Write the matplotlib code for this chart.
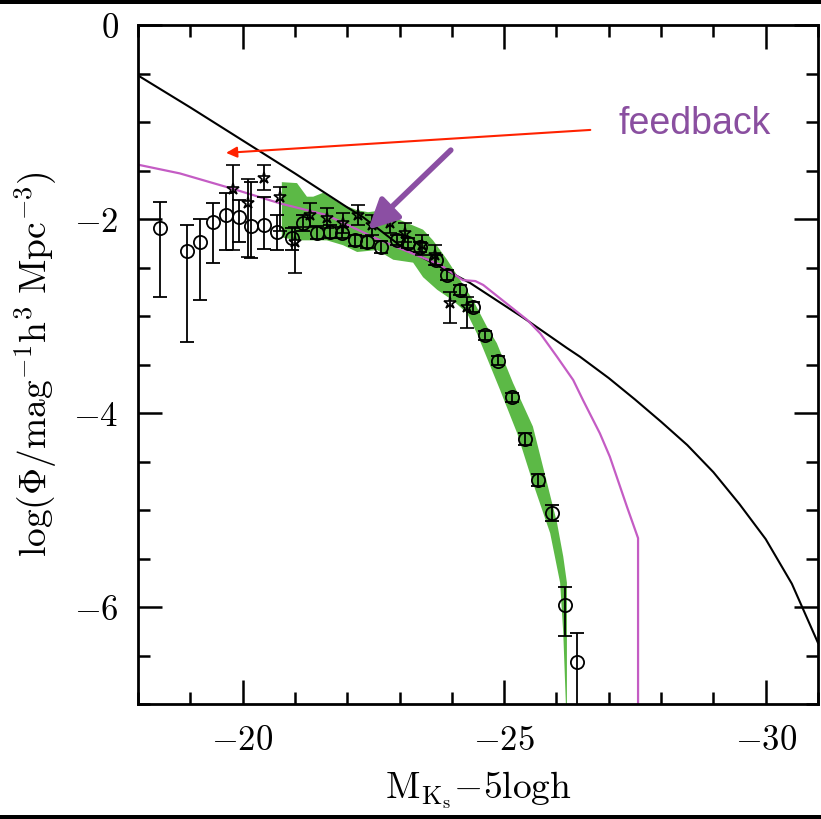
import numpy as np
import matplotlib.pyplot as plt
from matplotlib.patches import Rectangle
from matplotlib.ticker import MultipleLocator

plt.rcParams['mathtext.fontset'] = 'cm'

# model without feedback (black)
nofb_x = [-18.0, -19.0, -20.0, -21.0, -22.0, -22.3, -23.0, -24.35, -25.4, -26.2, -26.45, -27.0, -27.5, -28.0, -28.5, -29.0, -29.5, -30.0, -30.5, -31.0]
nofb_y = [-0.52, -0.85, -1.19, -1.53, -1.88, -1.98, -2.27, -2.66, -3.03, -3.33, -3.42, -3.64, -3.86, -4.09, -4.33, -4.61, -4.94, -5.30, -5.76, -6.37]

# model with feedback (magenta)
fb_x = [-18.0, -18.8, -19.82, -20.72, -21.61, -22.63, -23.77, -24.21, -24.45, -24.60, -25.44, -25.69, -26.01, -26.32, -26.51, -26.83, -27.02, -27.35, -27.56, -27.56]
fb_y = [-1.44, -1.53, -1.69, -1.84, -1.96, -2.22, -2.47, -2.63, -2.64, -2.68, -3.04, -3.18, -3.42, -3.66, -3.87, -4.21, -4.45, -4.97, -5.29, -7.0]

# green band, upper and lower edge
band_up_x = [-20.75, -21.04, -21.23, -21.35, -21.54, -21.86, -22.19, -22.40, -22.68, -23.01, -23.45, -23.64, -23.91, -24.16, -24.41, -24.67, -24.86, -25.17, -25.55, -25.82, -26.01, -26.13, -26.20, -26.20, -26.20]
band_up_y = [-1.62, -1.63, -1.77, -1.77, -1.73, -1.84, -1.91, -1.93, -1.91, -2.01, -2.11, -2.22, -2.42, -2.63, -2.84, -3.11, -3.28, -3.69, -4.14, -4.72, -5.13, -5.48, -5.75, -6.27, -7.0]
band_lo_x = [-20.75, -21.04, -21.29, -21.61, -21.92, -22.19, -22.57, -22.88, -23.26, -23.45, -23.72, -24.02, -24.29, -24.48, -24.67, -24.92, -25.25, -25.55, -25.88, -26.07, -26.13, -26.18]
band_lo_y = [-2.19, -2.22, -2.22, -2.22, -2.27, -2.34, -2.32, -2.42, -2.45, -2.60, -2.73, -2.84, -2.97, -3.18, -3.43, -3.76, -4.21, -4.72, -5.24, -5.75, -6.27, -7.0]

# open circles
circ_x = [-18.42, -18.94, -19.19, -19.43, -19.68, -19.93, -20.16, -20.41, -20.66, -20.94, -21.15, -21.42, -21.67, -21.90, -22.15, -22.38,
          -22.65, -22.95, -23.16, -23.39, -23.70, -23.91, -24.16, -24.41, -24.63, -24.88, -25.15, -25.40, -25.65, -25.92, -26.16, -26.39]
circ_y = [-2.09, -2.33, -2.24, -2.03, -1.96, -1.98, -2.07, -2.06, -2.13, -2.20, -2.04, -2.14, -2.13, -2.14, -2.22, -2.24,
          -2.29, -2.22, -2.25, -2.29, -2.42, -2.58, -2.73, -2.91, -3.20, -3.46, -3.84, -4.27, -4.69, -5.03, -5.98, -6.57]
circ_lo = [0.71, 0.94, 0.60, 0.42, 0.36, 0.26, 0.33, 0.25, 0.19, 0.12, 0.08, 0.07, 0.07, 0.06, 0.06, 0.06,
           0.06, 0.05, 0.05, 0.05, 0.05, 0.05, 0.05, 0.05, 0.05, 0.05, 0.05, 0.06, 0.06, 0.08, 0.32, 0.80]
circ_hi = [0.27, 0.27, 0.24, 0.19, 0.23, 0.18, 0.45, 0.29, 0.17, 0.11, 0.08, 0.07, 0.07, 0.06, 0.06, 0.06,
           0.06, 0.05, 0.05, 0.05, 0.05, 0.05, 0.05, 0.05, 0.05, 0.05, 0.05, 0.06, 0.06, 0.08, 0.19, 0.30]

# stars
star_x = [-19.82, -20.10, -20.41, -20.72, -21.00, -21.29, -21.61, -21.92, -22.21, -22.47, -22.82, -23.11, -23.43, -23.68, -23.97, -24.29]
star_y = [-1.69, -1.84, -1.58, -1.77, -2.24, -1.96, -1.99, -2.04, -1.96, -2.06, -2.04, -2.14, -2.27, -2.37, -2.87, -2.91]
star_lo = [0.63, 0.55, 0.12, 0.35, 0.32, 0.12, 0.10, 0.10, 0.10, 0.10, 0.10, 0.10, 0.10, 0.10, 0.20, 0.21]
star_hi = [0.25, 0.25, 0.14, 0.10, 0.16, 0.12, 0.10, 0.10, 0.10, 0.10, 0.10, 0.10, 0.10, 0.10, 0.12, 0.11]

xticks = [-20, -25, -30]
xtick_labels = [r'$-20$', r'$-25$', r'$-30$']
yticks = [0, -2, -4, -6]
ytick_labels = [r'$0$', r'$-2$', r'$-4$', r'$-6$']

fig = plt.figure(figsize=(8.21, 8.19), dpi=100)
ax = fig.add_axes([138/821, 1 - 704/819, 680/821, 679/819])

ax.fill(band_up_x + band_lo_x[::-1], band_up_y + band_lo_y[::-1],
        color='#5cb946', lw=0, zorder=1)
ax.plot(nofb_x, nofb_y, color='black', lw=1.5, zorder=2)
ax.plot(fb_x, fb_y, color='#c45cc4', lw=1.6, zorder=2)

ax.errorbar(circ_x, circ_y, yerr=[circ_lo, circ_hi], fmt='o', ms=9.5, mfc='none', mec='black', mew=1.3,
            ecolor='black', elinewidth=1.3, capsize=5, capthick=1.3, zorder=3)
ax.errorbar(star_x, star_y, yerr=[star_lo, star_hi], fmt='*', ms=9, mfc='none', mec='black', mew=1.2,
            ecolor='black', elinewidth=1.3, capsize=5, capthick=1.3, zorder=3)

# arrows and label
ax.annotate('', xy=(-19.63, -1.32), xytext=(-26.70, -1.08),
            arrowprops=dict(arrowstyle='-|>', color='#ff2200', lw=1.5, mutation_scale=16), zorder=5)
ax.annotate('', xy=(-22.40, -2.11), xytext=(-23.98, -1.29),
            arrowprops=dict(arrowstyle='-|>', color='#8b4fa3', lw=4, mutation_scale=45, shrinkA=0, shrinkB=0), zorder=5)
ax.text(-27.18, -1.12, 'feedback', color='#8a4fa0', fontsize=27, family='Liberation Sans',
        ha='left', va='baseline', zorder=5)

ax.set_xlim(-18, -31)
ax.set_ylim(-7, 0)
ax.set_xticks(xticks)
ax.set_xticklabels(xtick_labels)
ax.set_yticks(yticks)
ax.set_yticklabels(ytick_labels)
ax.xaxis.set_minor_locator(MultipleLocator(1))
ax.yaxis.set_minor_locator(MultipleLocator(0.5))
ax.tick_params(which='both', direction='in', top=True, right=True, width=1.8, labelsize=25)
ax.tick_params(which='major', length=17, pad=14)
ax.tick_params(which='minor', length=8.5)
for sp in ax.spines.values():
    sp.set_linewidth(2)

ax.set_xlabel(r'$\mathrm{M}_{\mathrm{K_s}}\mathrm{-5logh}$', fontsize=27, labelpad=8)
ax.set_ylabel(r'$\log(\Phi/\mathrm{mag}^{-1}\mathrm{h}^{3}\ \mathrm{Mpc}^{-3})$', fontsize=27, labelpad=10)

# black frame strips at top and bottom of the image
fig.add_artist(Rectangle((0, 1 - 4/819), 1, 4/819, transform=fig.transFigure, color='black', lw=0))
fig.add_artist(Rectangle((0, 0), 1, 4/819, transform=fig.transFigure, color='black', lw=0))

fig.savefig('out.png', dpi=100)
